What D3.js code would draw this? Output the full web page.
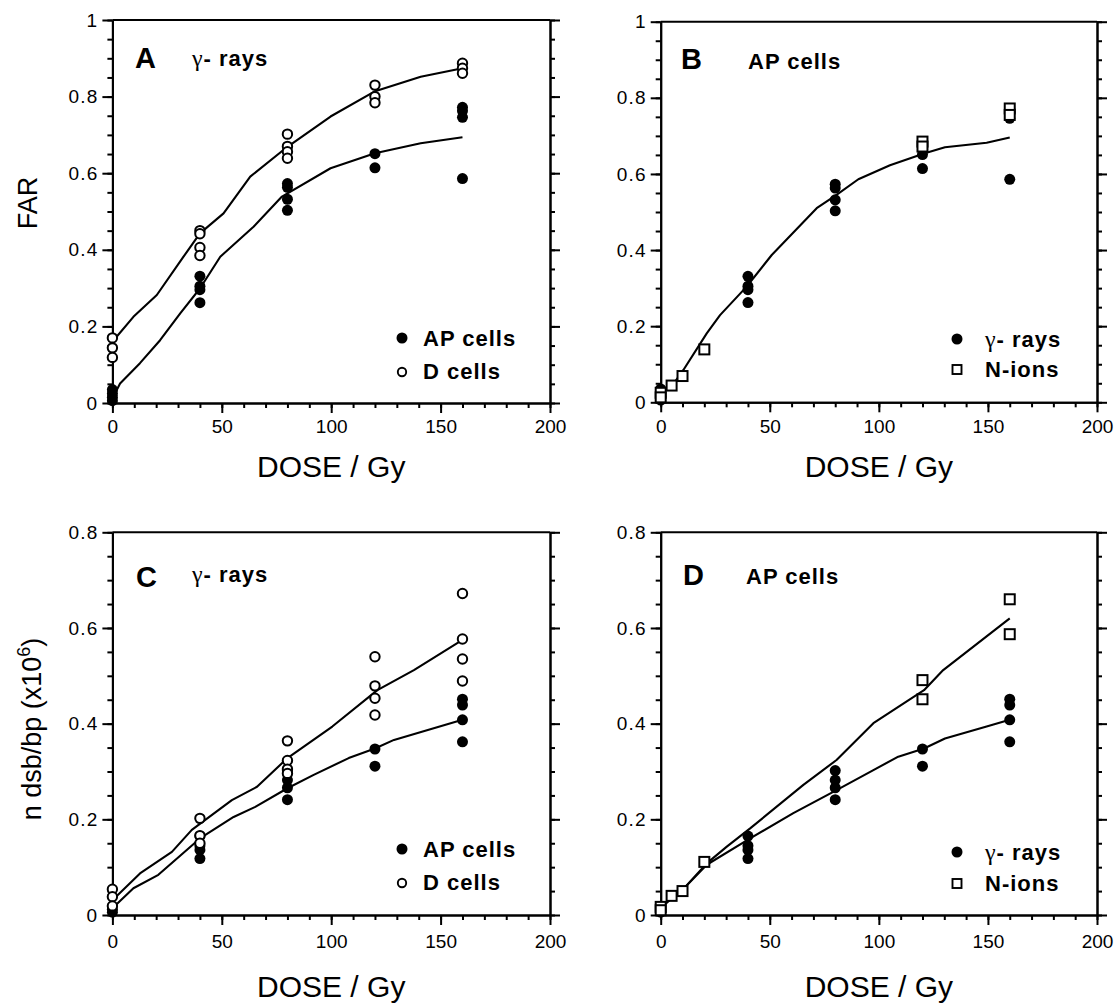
<!DOCTYPE html>
<html><head><meta charset="utf-8">
<script src="https://cdn.jsdelivr.net/npm/d3@7/dist/d3.min.js"></script>
<style>
body{margin:0;background:#fff}
svg{display:block}
text{font-family:"Liberation Sans",Arial,Helvetica,sans-serif;fill:#000}
</style>
</head><body>
<svg id="chart" width="1117" height="1005"></svg>
<script>
// ---------------- DATA ----------------
const doseTicks = [0, 50, 100, 150, 200];
const farTicks = [0, 0.2, 0.4, 0.6, 0.8, 1];
const dsbTicks = [0, 0.2, 0.4, 0.6, 0.8];

const panelLetters = ["A", "B", "C", "D"];
const panelTitles = ["γ- rays", "AP cells", "γ- rays", "AP cells"];
const legendCells = ["AP cells", "D cells"];
const legendRadiation = ["γ- rays", "N-ions"];
const xTitle = "DOSE / Gy";
const farTitle = "FAR";
const dsbTitle = "n dsb/bp (x10";
const dsbExp = "6";

// FAR, AP cells, gamma rays [dose, value]
const farApGamma = [[0,0.035],[0,0.025],[0,0.015],[0,0.006],
  [40,0.331],[40,0.305],[40,0.296],[40,0.262],
  [80,0.573],[80,0.563],[80,0.532],[80,0.503],
  [120,0.651],[120,0.614],
  [160,0.772],[160,0.763],[160,0.746],[160,0.586]];
// FAR, D cells, gamma rays
const farDGamma = [[0,0.170],[0,0.144],[0,0.119],
  [40,0.450],[40,0.442],[40,0.406],[40,0.385],
  [80,0.702],[80,0.670],[80,0.656],[80,0.639],
  [120,0.830],[120,0.800],[120,0.784],
  [160,0.887],[160,0.874],[160,0.861]];
// FAR, AP cells, N-ions
const farApNion = [[0,0.025],[0,0.013],[5,0.044],[10,0.069],[20,0.139],
  [120,0.685],[120,0.672],[160,0.772],[160,0.755]];

// FAR fitted curves
const farFitApGamma = [[0,0.012],[3.5,0.051],[12.6,0.104],[21.8,0.164],[31,0.234],[40,0.299],
  [49.3,0.382],[64.5,0.460],[77.5,0.539],[99.7,0.613],[120,0.652],[140.9,0.678],[160,0.694]];
const farFitDGamma = [[0,0.160],[9.6,0.225],[20.3,0.282],[32.5,0.382],[40,0.443],[50.8,0.495],
  [63,0.591],[80,0.669],[99.7,0.748],[119.7,0.813],[140.9,0.852],[160,0.874]];
const farFitApNion = [[0,0.024],[5,0.041],[10.4,0.085],[21.1,0.181],[27.2,0.229],[39.4,0.304],
  [50.9,0.387],[71.5,0.510],[80.6,0.545],[90.6,0.586],[105.1,0.623],[120.7,0.654],[130.3,0.670],
  [149.4,0.682],[160,0.696]];

// dsb (x10^6), AP cells, gamma rays
const dsbApGamma = [[0,0.012],[0,0.006],
  [40,0.165],[40,0.145],[40,0.136],[40,0.118],
  [80,0.302],[80,0.282],[80,0.266],[80,0.241],
  [120,0.347],[120,0.311],
  [160,0.451],[160,0.439],[160,0.408],[160,0.362]];
// dsb, D cells, gamma rays
const dsbDGamma = [[0,0.054],[0,0.038],[0,0.019],
  [40,0.202],[40,0.166],[40,0.150],
  [80,0.364],[80,0.323],[80,0.305],[80,0.296],
  [120,0.540],[120,0.479],[120,0.453],[120,0.418],
  [160,0.672],[160,0.577],[160,0.535],[160,0.489]];
// dsb, AP cells, N-ions
const dsbApNion = [[0,0.017],[0,0.010],[5,0.040],[10,0.050],[20,0.111],
  [120,0.491],[120,0.451],[160,0.660],[160,0.587]];

// dsb fitted curves
const dsbFitApGamma = [[0,0.014],[9.6,0.056],[21,0.084],[40,0.160],[55.4,0.205],[65.3,0.226],
  [80,0.265],[92,0.293],[108,0.328],[120,0.348],[128.7,0.366],[160,0.408]];
const dsbFitDGamma = [[0,0.031],[12.6,0.087],[27.2,0.132],[36.3,0.178],[54.6,0.240],[66.1,0.268],
  [80,0.328],[100.5,0.394],[121.1,0.470],[137.8,0.512],[160,0.575]];
const dsbFitApGammaD = [[0,0.015],[5,0.035],[9.9,0.052],[21.1,0.105],[41,0.160],[60.8,0.213],
  [80.6,0.261],[97.5,0.303],[108.9,0.331],[120.7,0.348],[130.3,0.369],[149.4,0.394],[160,0.408]];
const dsbFitApNion = [[0,0.014],[5,0.035],[9.9,0.052],[21.1,0.108],[30.3,0.143],[41,0.181],
  [65.4,0.272],[80.6,0.324],[97.5,0.401],[120.7,0.470],[129.5,0.512],[160,0.620]];

// ---------------- DRAWING ----------------
const svg = d3.select("#chart");
const fmt = d => (d === 0 ? "0" : d === 1 ? "1" : d.toFixed(1));

function drawPanel(cfg) {
  const x = d3.scaleLinear().domain([0, 200]).range([cfg.left, cfg.right]);
  const y = d3.scaleLinear().domain([0, cfg.ymax]).range([cfg.bottom, cfg.top]);
  const g = svg.append("g");
  const minorY = d3.range(0, cfg.ymax + 1e-9, 0.05);
  const minorX = d3.range(0, 201, 10);

  // bottom axis
  const bx = g.append("g").attr("transform", `translate(0,${cfg.bottom})`);
  bx.call(d3.axisBottom(x).tickValues(minorX).tickSize(5).tickFormat("").tickSizeOuter(0));
  bx.append("g").call(d3.axisBottom(x).tickValues(doseTicks).tickSize(10).tickPadding(cfg.xPad).tickFormat(d3.format("d")).tickSizeOuter(0));
  // left axis
  const ly = g.append("g").attr("transform", `translate(${cfg.left},0)`);
  ly.call(d3.axisLeft(y).tickValues(minorY).tickSize(5).tickFormat("").tickSizeOuter(0));
  const lyMaj = ly.append("g").call(d3.axisLeft(y).tickValues(cfg.yTicks).tickSize(10).tickPadding(4).tickFormat(fmt).tickSizeOuter(0));
  lyMaj.selectAll("text").attr("letter-spacing", 1.2);
  // right axis
  const ry = g.append("g").attr("transform", `translate(${cfg.right},0)`);
  ry.call(d3.axisRight(y).tickValues(minorY).tickSize(5).tickFormat("").tickSizeOuter(0));
  ry.append("g").call(d3.axisRight(y).tickValues(cfg.yTicks).tickSize(10).tickFormat("").tickSizeOuter(0));
  // top frame
  g.append("line").attr("x1", cfg.left).attr("x2", cfg.right).attr("y1", cfg.top).attr("y2", cfg.top)
    .attr("stroke", "#000").attr("stroke-width", 2);

  g.selectAll(".domain").attr("stroke", "#000").attr("stroke-width", 2);
  g.selectAll(".tick line").attr("stroke", "#000").attr("stroke-width", 2);
  g.selectAll(".tick text").attr("font-size", 19).attr("font-family", "Liberation Sans, Arial, sans-serif");

  // fitted curves
  const line = d3.line().x(d => x(d[0])).y(d => y(d[1]));
  cfg.fits.forEach(f => {
    g.append("path").attr("d", line(f)).attr("fill", "none").attr("stroke", "#000")
      .attr("stroke-width", 2.1).attr("stroke-linejoin", "round");
  });

  // filled circles
  g.selectAll(".fc").data(cfg.filled).enter().append("circle")
    .attr("cx", d => x(d[0])).attr("cy", d => y(d[1])).attr("r", 5.5).attr("fill", "#000");
  // open markers (on top)
  if (cfg.openType === "circle") {
    g.selectAll(".oc").data(cfg.open).enter().append("circle")
      .attr("cx", d => x(d[0])).attr("cy", d => y(d[1])).attr("r", 4.7)
      .attr("fill", "#fff").attr("stroke", "#000").attr("stroke-width", 2);
  } else {
    g.selectAll(".os").data(cfg.open).enter().append("rect")
      .attr("x", d => x(d[0]) - 5).attr("y", d => y(d[1]) - 5).attr("width", 10).attr("height", 10)
      .attr("fill", "#fff").attr("stroke", "#000").attr("stroke-width", 2);
  }

  // panel letter + title
  g.append("text").attr("x", cfg.letterX).attr("y", cfg.letterY).attr("font-size", 29)
    .attr("font-weight", "bold").text(cfg.letter);
  const t = g.append("text").attr("x", cfg.titleX).attr("y", cfg.titleY).attr("font-size", 22)
    .attr("font-weight", "bold").attr("letter-spacing", 1);
  addLabel(t, cfg.title);

  // legend
  const lx = cfg.legendX;
  g.append("circle").attr("cx", lx).attr("cy", cfg.legendY1 - 8).attr("r", 5.5).attr("fill", "#000");
  if (cfg.openType === "circle") {
    g.append("circle").attr("cx", lx).attr("cy", cfg.legendY2 - 7).attr("r", 4.2)
      .attr("fill", "#fff").attr("stroke", "#000").attr("stroke-width", 1.9);
  } else {
    g.append("rect").attr("x", lx - 4.5).attr("y", cfg.legendY2 - 12).attr("width", 9).attr("height", 9)
      .attr("fill", "#fff").attr("stroke", "#000").attr("stroke-width", 1.9);
  }
  [cfg.legend[0], cfg.legend[1]].forEach((lab, i) => {
    const tt = g.append("text").attr("x", cfg.legendTextX).attr("y", i === 0 ? cfg.legendY1 : cfg.legendY2)
      .attr("font-size", 22).attr("font-weight", "bold").attr("letter-spacing", 1);
    addLabel(tt, lab);
  });

  // x title
  g.append("text").attr("x", (cfg.left + cfg.right) / 2).attr("y", cfg.xTitleY)
    .attr("text-anchor", "middle").attr("font-size", 30).text(xTitle);
}

function addLabel(sel, s) {
  if (s.startsWith("γ")) {
    sel.append("tspan").attr("font-weight", "normal").attr("font-family", "Liberation Serif, DejaVu Serif, serif")
      .attr("font-size", 24).text("γ");
    sel.append("tspan").text(s.slice(1));
  } else sel.text(s);
}

const L1 = 112.4, R1 = 550, L2 = 660.7, R2 = 1097;

drawPanel({left: L1, right: R1, top: 20, bottom: 403, ymax: 1, yTicks: farTicks, xPad: 7, xTitleY: 477,
  fits: [farFitDGamma, farFitApGamma], filled: farApGamma, open: farDGamma, openType: "circle",
  letter: panelLetters[0], letterX: 135, letterY: 68, title: panelTitles[0], titleX: 192, titleY: 66,
  legend: legendCells, legendX: 402, legendTextX: 423, legendY1: 346, legendY2: 379});

drawPanel({left: L2, right: R2, top: 21.7, bottom: 402.3, ymax: 1, yTicks: farTicks, xPad: 7, xTitleY: 477,
  fits: [farFitApNion], filled: farApGamma, open: farApNion, openType: "square",
  letter: panelLetters[1], letterX: 681, letterY: 69, title: panelTitles[1], titleX: 748, titleY: 69,
  legend: legendRadiation, legendX: 957, legendTextX: 985, legendY1: 347, legendY2: 377});

drawPanel({left: L1, right: R1, top: 532.3, bottom: 915, ymax: 0.8, yTicks: dsbTicks, xPad: 10, xTitleY: 997,
  fits: [dsbFitDGamma, dsbFitApGamma], filled: dsbApGamma, open: dsbDGamma, openType: "circle",
  letter: panelLetters[2], letterX: 136, letterY: 587, title: panelTitles[2], titleX: 192, titleY: 582,
  legend: legendCells, legendX: 402, legendTextX: 423, legendY1: 857, legendY2: 890});

drawPanel({left: L2, right: R2, top: 532.3, bottom: 915, ymax: 0.8, yTicks: dsbTicks, xPad: 10, xTitleY: 997,
  fits: [dsbFitApNion, dsbFitApGammaD], filled: dsbApGamma, open: dsbApNion, openType: "square",
  letter: panelLetters[3], letterX: 683, letterY: 585, title: panelTitles[3], titleX: 746, titleY: 584,
  legend: legendRadiation, legendX: 957, legendTextX: 985, legendY1: 860, legendY2: 891});

// y axis titles
svg.append("text").attr("transform", "translate(37,203) rotate(-90)").attr("text-anchor", "middle")
  .attr("font-size", 27).text(farTitle);
const yt = svg.append("text").attr("transform", "translate(41,729) rotate(-90)").attr("text-anchor", "middle")
  .attr("font-size", 27);
yt.append("tspan").text(dsbTitle);
yt.append("tspan").attr("font-size", 18).attr("dy", -11).text(dsbExp);
yt.append("tspan").attr("dy", 11).text(")");
</script>
</body></html>
